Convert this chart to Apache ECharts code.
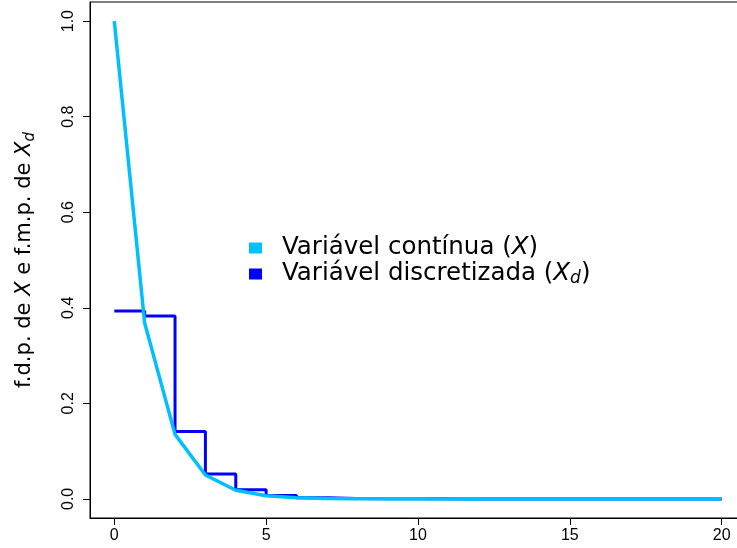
<!DOCTYPE html>
<html>
<head>
<meta charset="utf-8">
<script src="https://cdn.jsdelivr.net/npm/echarts@6/dist/echarts.min.js"></script>
<style>
html,body{margin:0;padding:0;background:#fff;}
#chart{width:737px;height:548px;}
</style>
</head>
<body>
<div id="chart"></div>
<script>
// x positions (integers 0..20)
const xValues = [0,1,2,3,4,5,6,7,8,9,10,11,12,13,14,15,16,17,18,19,20];
// f.d.p. of continuous X read at each integer
const contValues = [1.000,0.368,0.135,0.050,0.018,0.0067,0.0025,0.0009,0.00034,0.00012,0.000045,0.000017,0.000006,0.0000023,0.0000008,0.0000003,0.0000001,0,0,0,0];
// f.m.p. of discretized X_d
const discValues = [0.393,0.383,0.141,0.052,0.019,0.007,0.0026,0.00095,0.00035,0.00013,0.00005,0.00002,0.000007,0.000003,0.000001,0,0,0,0,0,0];
const xTicks = [0,5,10,15,20];
const yTicks = [0,0.2,0.4,0.6,0.8,1.0];
const seriesNames = ['Variável contínua (X)','Variável discretizada (X_d)'];

const contData = xValues.map((x,i)=>[x,contValues[i]]);
const discData = xValues.map((x,i)=>[x,discValues[i]]);

const chart = echarts.init(document.getElementById('chart'), null, {renderer:'canvas'});
const legendFont = 'DejaVu Sans';
const option = {
  backgroundColor:'#fff',
  animation:false,
  grid:{left:90, right:-9, top:2, bottom:30, outerBoundsMode:'none', containLabel:false,
        show:true, borderColor:'#000', borderWidth:1, backgroundColor:'transparent'},
  legend:{
    left:249, top:235, orient:'vertical', icon:'rect', itemWidth:13, itemHeight:11, itemGap:0, padding:0,
    data:[seriesNames[0], seriesNames[1]],
    formatter:function(name){
      if(name===seriesNames[0]) return '{sp|}{n|Variável contínua (}{i|X}{n|)}';
      return '{sp|}{n|Variável discretizada (}{i|X}{s|d}{n|)}';
    },
    textStyle:{
      lineHeight:26,
      rich:{
        sp:{width:15},
        n:{fontFamily:legendFont, fontSize:24.5, color:'#000', lineHeight:26},
        i:{fontFamily:legendFont, fontSize:24.5, fontStyle:'italic', color:'#000', lineHeight:26},
        s:{fontFamily:legendFont, fontSize:17, fontStyle:'italic', color:'#000', lineHeight:14, verticalAlign:'bottom'}
      }
    }
  },
  xAxis:{
    type:'value', min:-0.8, max:20.8,
    splitLine:{show:false},
    axisLine:{show:true, onZero:false, lineStyle:{color:'#000', width:1}},
    axisTick:{show:true, length:7, lineStyle:{color:'#000'}, customValues:xTicks},
    axisLabel:{color:'#000', fontFamily:'Liberation Sans', fontSize:16, margin:10, customValues:xTicks}
  },
  yAxis:{
    type:'value', min:-0.04, max:1.04,
    splitLine:{show:false},
    axisLine:{show:true, onZero:false, lineStyle:{color:'#000', width:1}},
    axisTick:{show:true, length:7, lineStyle:{color:'#000'}, customValues:yTicks},
    axisLabel:{color:'#000', fontFamily:'Liberation Sans', fontSize:16, margin:13, rotate:90,
      customValues:yTicks, formatter:function(v){return v.toFixed(1);}},
    name:'{n|f.d.p. de }{i|X}{n| e f.m.p. de }{i|X}{s|d}',
    nameLocation:'middle', nameGap:52, nameRotate:90,
    nameTextStyle:{
      rich:{
        n:{fontFamily:legendFont, fontSize:21, color:'#000', lineHeight:26},
        i:{fontFamily:legendFont, fontSize:21, fontStyle:'italic', color:'#000', lineHeight:26},
        s:{fontFamily:legendFont, fontSize:15, fontStyle:'italic', color:'#000', lineHeight:14, verticalAlign:'bottom'}
      }
    }
  },
  series:[
    {name:seriesNames[1], type:'line', data:discData, step:'end', showSymbol:false, symbol:'none',
     lineStyle:{color:'#0000FF', width:3}, itemStyle:{color:'#0000FF'}, z:2},
    {name:seriesNames[0], type:'line', data:contData, showSymbol:false, symbol:'none',
     lineStyle:{color:'#00BFFF', width:3.5}, itemStyle:{color:'#00BFFF'}, z:3}
  ]
};
chart.setOption(option);
</script>
</body>
</html>
